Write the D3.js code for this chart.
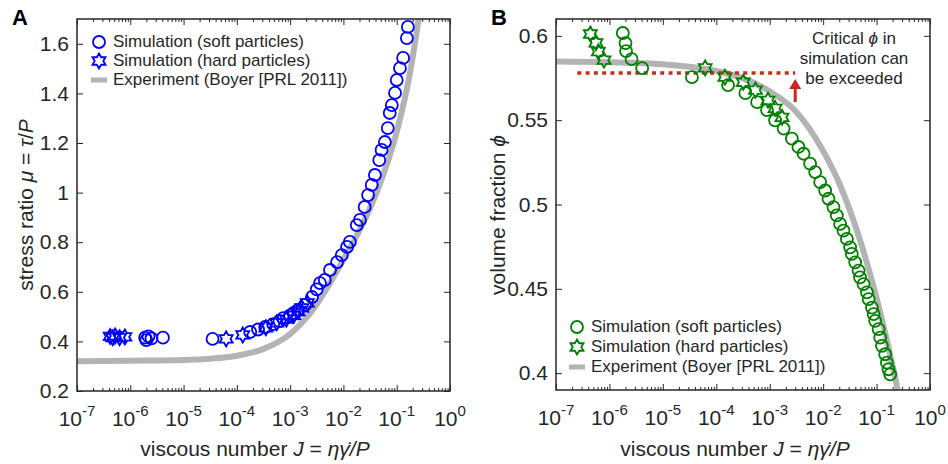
<!DOCTYPE html>
<html>
<head>
<meta charset="utf-8">
<script src="https://cdn.jsdelivr.net/npm/d3@7"></script>
<style>
  body { margin: 0; background: #fff; }
  text { font-family: "Liberation Sans", Arial, sans-serif; fill: #262626; }
</style>
</head>
<body>
<svg id="chart" width="948" height="464"></svg>
<script>

// ---- data ----

// experiment (Boyer PRL 2011), panel A: mu vs J
var expMuJ = [1e-7, 1e-6, 1e-5, 3e-5, 1e-4, 3e-4, 1e-3, 1.8e-3, 3.2e-3, 5.6e-3, 1e-2, 1.8e-2, 3.2e-2, 5.6e-2, 0.1, 0.178, 0.316];
var expMu  = [0.320, 0.322, 0.325, 0.330, 0.342, 0.368, 0.430, 0.483, 0.552, 0.636, 0.730, 0.829, 0.940, 1.072, 1.244, 1.484, 1.833];

// experiment, panel B: phi vs J
var expPhiJ = [1e-7, 1e-6, 1e-5, 1e-4, 3e-4, 1e-3, 3e-3, 1e-2, 2e-2, 5e-2, 0.1, 0.2, 0.3];
var expPhi  = [0.5848, 0.5844, 0.5832, 0.5792, 0.5751, 0.5671, 0.5556, 0.5318, 0.5126, 0.4780, 0.4445, 0.4043, 0.3780];

// panel A, soft particles (circles)
var softMuJ = [1.9e-6, 2.0e-6, 2.2e-6, 2.5e-6, 4.1e-6, 3.5e-5,
  1.78e-4, 2.5e-4, 3.4e-4, 4.8e-4, 6.3e-4, 7.4e-4, 1.0e-3, 1.17e-3, 1.41e-3, 1.9e-3, 2.57e-3, 3.16e-3,
  3.63e-3, 4.47e-3, 5.6e-3, 7.6e-3, 9.3e-3, 1.17e-2, 1.32e-2, 1.78e-2, 2.04e-2, 2.5e-2, 2.9e-2, 3.4e-2,
  3.9e-2, 4.7e-2, 5.2e-2, 6.0e-2, 6.8e-2, 7.4e-2, 8.1e-2, 9.3e-2, 0.100, 0.115, 0.132, 0.155, 0.162];
var softMu = [0.415, 0.405, 0.420, 0.412, 0.415, 0.410,
  0.438, 0.448, 0.458, 0.470, 0.482, 0.494, 0.505, 0.515, 0.527, 0.547, 0.579, 0.610,
  0.635, 0.648, 0.688, 0.720, 0.748, 0.781, 0.801, 0.869, 0.890, 0.942, 0.990, 1.031,
  1.071, 1.131, 1.172, 1.204, 1.260, 1.321, 1.353, 1.402, 1.454, 1.502, 1.543, 1.623, 1.668];

// panel A, hard particles (hexagrams)
var hardMuJ = [4.2e-7, 4.7e-7, 5.2e-7, 6.3e-7, 7.9e-7, 6.3e-5, 1.29e-4, 3.5e-4, 5.6e-4, 8.5e-4, 1.17e-3, 1.41e-3, 1.66e-3, 2.1e-3];
var hardMu  = [0.420, 0.415, 0.422, 0.415, 0.418, 0.410, 0.426, 0.455, 0.475, 0.490, 0.505, 0.520, 0.535, 0.555];

// panel B, soft particles (circles)
var softPhiJ = [1.78e-6, 2.0e-6, 2.05e-6, 2.6e-6, 4.1e-6, 3.5e-5,
  1.66e-4, 3.5e-4, 5.8e-4, 8.9e-4, 1.26e-3, 1.82e-3, 2.6e-3, 3.45e-3, 4.3e-3, 5.7e-3, 7.1e-3, 8.8e-3,
  1.09e-2, 1.26e-2, 1.56e-2, 1.8e-2, 2.08e-2, 2.4e-2, 2.78e-2, 3.2e-2, 3.44e-2, 3.98e-2, 4.6e-2, 4.9e-2,
  5.7e-2, 6.6e-2, 7.1e-2, 8.2e-2, 8.8e-2, 9.4e-2, 0.109, 0.117, 0.126, 0.145, 0.156, 0.167, 0.180];
var softPhi = [0.6017, 0.5957, 0.5910, 0.5862, 0.5809, 0.5755,
  0.5708, 0.5660, 0.5607, 0.5560, 0.5499, 0.5450, 0.5391, 0.5341, 0.5301, 0.5242, 0.5192, 0.5133,
  0.5083, 0.5034, 0.4984, 0.4935, 0.4885, 0.4845, 0.4796, 0.4746, 0.4707, 0.4657, 0.4608, 0.4568,
  0.4528, 0.4479, 0.4439, 0.4389, 0.4350, 0.4310, 0.4261, 0.4211, 0.4162, 0.4112, 0.4062, 0.4023, 0.3993];

// panel B, hard particles (hexagrams)
var hardPhiJ = [4.4e-7, 5.6e-7, 6.2e-7, 7.9e-7, 6.2e-5, 1.45e-4, 3.2e-4, 5.4e-4, 9.3e-4, 1.26e-3, 1.7e-3];
var hardPhi  = [0.6011, 0.5959, 0.5906, 0.5856, 0.5810, 0.5755, 0.5725, 0.5678, 0.5618, 0.5570, 0.5517];

// critical phi line and its J span
var critPhi = 0.578;
var critJ = [2.5e-7, 3.0e-3];

// ticks
var xTickExps = [-7, -6, -5, -4, -3, -2, -1, 0];
var yTicksA = [0.2, 0.4, 0.6, 0.8, 1, 1.2, 1.4, 1.6];
var yTicksB = [0.4, 0.45, 0.5, 0.55, 0.6];

var legendLabels = ["Simulation (soft particles)", "Simulation (hard particles)", "Experiment (Boyer [PRL 2011])"];


// ---- drawing ----

var svg = d3.select("#chart");
svg.append("rect").attr("width", 948).attr("height", 464).attr("fill", "#fff");

var axisColor = "#262626";
var grayColor = "#b3b3b3";

function hexagram(r) {
    var pts = [];
    for (var i = 0; i < 12; i++) {
        var a = -Math.PI / 2 + i * Math.PI / 6;
        var rr = (i % 2 === 0) ? r : r / Math.sqrt(3);
        pts.push([rr * Math.cos(a), rr * Math.sin(a)]);
    }
    return "M" + pts.map(function(p) { return p[0].toFixed(2) + "," + p[1].toFixed(2); }).join("L") + "Z";
}

function drawPanel(opt) {

    var g = svg.append("g");

    var x = d3.scaleLog().domain([1e-7, 1]).range([opt.left, opt.right]);
    var y = d3.scaleLinear().domain(opt.yDomain).range([opt.bottom, opt.top]);

    var clipId = "clip" + opt.id;
    svg.append("clipPath").attr("id", clipId)
        .append("rect")
        .attr("x", opt.left).attr("y", opt.top)
        .attr("width", opt.right - opt.left).attr("height", opt.bottom - opt.top);

    var plot = g.append("g").attr("clip-path", "url(#" + clipId + ")");

    // experiment curve
    plot.append("path")
        .datum(d3.zip(opt.expJ, opt.expY))
        .attr("fill", "none")
        .attr("stroke", grayColor)
        .attr("stroke-width", 6)
        .attr("d", d3.line().x(function(d) { return x(d[0]); }).y(function(d) { return y(d[1]); }).curve(d3.curveMonotoneX));

    if (opt.extra) opt.extra(plot, x, y);

    // soft particles
    plot.selectAll("circle.soft")
        .data(d3.zip(opt.softJ, opt.softY))
        .enter().append("circle")
        .attr("class", "soft")
        .attr("cx", function(d) { return x(d[0]); })
        .attr("cy", function(d) { return y(d[1]); })
        .attr("r", 6)
        .attr("fill", "none")
        .attr("stroke", opt.color)
        .attr("stroke-width", 1.8);

    // hard particles
    plot.selectAll("path.hard")
        .data(d3.zip(opt.hardJ, opt.hardY))
        .enter().append("path")
        .attr("class", "hard")
        .attr("d", hexagram(7.5))
        .attr("transform", function(d) { return "translate(" + x(d[0]) + "," + y(d[1]) + ")"; })
        .attr("fill", "none")
        .attr("stroke", opt.color)
        .attr("stroke-width", 1.8)
        .attr("stroke-linejoin", "miter");

    // axes (ticks inward, labels added by hand)
    var majors = xTickExps.map(function(e) { return Math.pow(10, e); });
    var minors = [];
    for (var e = -7; e < 0; e++) {
        for (var k = 2; k <= 9; k++) minors.push(k * Math.pow(10, e));
    }

    function styleAxis(sel) {
        sel.select(".domain").remove();
        sel.selectAll(".tick line").attr("stroke", axisColor).attr("stroke-width", 1);
    }

    g.append("g").attr("transform", "translate(0," + opt.bottom + ")")
        .call(d3.axisBottom(x).tickValues(majors).tickSize(-6).tickFormat("")).call(styleAxis);
    g.append("g").attr("transform", "translate(0," + opt.bottom + ")")
        .call(d3.axisBottom(x).tickValues(minors).tickSize(-3).tickFormat("")).call(styleAxis);
    g.append("g").attr("transform", "translate(0," + opt.top + ")")
        .call(d3.axisTop(x).tickValues(majors).tickSize(-6).tickFormat("")).call(styleAxis);
    g.append("g").attr("transform", "translate(0," + opt.top + ")")
        .call(d3.axisTop(x).tickValues(minors).tickSize(-3).tickFormat("")).call(styleAxis);

    var left = g.append("g").attr("transform", "translate(" + opt.left + ",0)")
        .call(d3.axisLeft(y).tickValues(opt.yTicks).tickSize(-6).tickPadding(8).tickFormat(d3.format("~g")))
        .call(styleAxis);
    left.attr("font-family", null);
    left.selectAll(".tick text")
        .attr("font-size", 21)
        .attr("fill", axisColor);

    g.append("g").attr("transform", "translate(" + opt.right + ",0)")
        .call(d3.axisRight(y).tickValues(opt.yTicks).tickSize(-6).tickFormat(""))
        .call(styleAxis);

    // x tick labels 10^n
    var xl = g.append("g");
    xTickExps.forEach(function(ex) {
        var t = xl.append("text")
            .attr("x", x(Math.pow(10, ex)))
            .attr("y", opt.bottom + 35)
            .attr("text-anchor", "middle")
            .attr("font-size", 21);
        t.append("tspan").text("10");
        t.append("tspan").attr("dy", -10).attr("font-size", 15).text(String(ex));
    });

    // box
    g.append("rect")
        .attr("x", opt.left).attr("y", opt.top)
        .attr("width", opt.right - opt.left).attr("height", opt.bottom - opt.top)
        .attr("fill", "none")
        .attr("stroke", axisColor)
        .attr("stroke-width", 1.5);

    // x label
    var xlab = g.append("text")
        .attr("x", opt.xLabelX)
        .attr("y", 456)
        .attr("text-anchor", "middle")
        .attr("font-size", 21);
    xlab.append("tspan").text("viscous number ");
    xlab.append("tspan").attr("font-style", "italic").text("J");
    xlab.append("tspan").text(" = ");
    xlab.append("tspan").attr("font-style", "italic").text("\u03b7\u03b3\u0307/P");

    // y label
    var ylab = g.append("text")
        .attr("transform", "translate(" + opt.yLabelX + "," + opt.yLabelY + ") rotate(-90)")
        .attr("text-anchor", "middle")
        .attr("font-size", 21);
    opt.yLabel.forEach(function(part) {
        ylab.append("tspan").attr("font-style", part[1] ? "italic" : null).text(part[0]);
    });

    // panel letter
    g.append("text")
        .attr("x", opt.left - 65)
        .attr("y", 25)
        .attr("font-size", 22)
        .attr("font-weight", "bold")
        .style("fill", "#000")
        .text(opt.letter);

    // legend
    var lg = g.append("g");
    var lx = opt.left + opt.legendDx;
    opt.legendBase.forEach(function(by, i) {
        var cy = by - 5;
        if (i === 0) {
            lg.append("circle").attr("cx", lx).attr("cy", cy).attr("r", 6)
                .attr("fill", "none").attr("stroke", opt.color).attr("stroke-width", 1.8);
        } else if (i === 1) {
            lg.append("path").attr("d", hexagram(7.5)).attr("transform", "translate(" + lx + "," + cy + ")")
                .attr("fill", "none").attr("stroke", opt.color).attr("stroke-width", 1.8);
        } else {
            lg.append("line").attr("x1", lx - 8).attr("x2", lx + 8).attr("y1", cy).attr("y2", cy)
                .attr("stroke", grayColor).attr("stroke-width", 5);
        }
        lg.append("text")
            .attr("x", lx + 14)
            .attr("y", by)
            .attr("font-size", 17)
            .text(legendLabels[i]);
    });
}

drawPanel({
    id: "A", letter: "A",
    left: 77, right: 450, top: 19, bottom: 391,
    yDomain: [0.2, 1.7], yTicks: yTicksA,
    color: "#0000ff",
    expJ: expMuJ, expY: expMu,
    softJ: softMuJ, softY: softMu,
    hardJ: hardMuJ, hardY: hardMu,
    xLabelX: 255, yLabelX: 33, yLabelY: 205,
    yLabel: [["stress ratio ", false], ["\u03bc", true], [" = ", false], ["\u03c4", true], ["/", false], ["P", true]],
    legendDx: 22, legendBase: [47, 66, 85]
});

drawPanel({
    id: "B", letter: "B",
    left: 556, right: 930, top: 19, bottom: 390,
    yDomain: [0.39, 0.61], yTicks: yTicksB,
    color: "#008000",
    expJ: expPhiJ, expY: expPhi,
    softJ: softPhiJ, softY: softPhi,
    hardJ: hardPhiJ, hardY: hardPhi,
    xLabelX: 735, yLabelX: 505, yLabelY: 215,
    yLabel: [["volume fraction ", false], ["\u03d5", true]],
    legendDx: 21, legendBase: [332, 352, 372],
    extra: function(plot, x, y) {
        // critical phi line
        plot.append("line")
            .attr("x1", x(critJ[0])).attr("x2", x(critJ[1]))
            .attr("y1", y(critPhi)).attr("y2", y(critPhi))
            .attr("stroke", "#c92c1c")
            .attr("stroke-width", 3.5)
            .attr("stroke-dasharray", "4,4.3");
    }
});

// annotation in panel B
(function() {
    var xB = d3.scaleLog().domain([1e-7, 1]).range([556, 930]);
    var yB = d3.scaleLinear().domain([0.39, 0.61]).range([390, 19]);
    var ax = xB(critJ[1]);
    var tipY = yB(critPhi) + 6;
    svg.append("line")
        .attr("x1", ax).attr("x2", ax)
        .attr("y1", tipY + 8).attr("y2", 102)
        .attr("stroke", "#c8281e").attr("stroke-width", 3);
    svg.append("path")
        .attr("d", "M" + (ax - 6) + "," + (tipY + 10) + "L" + ax + "," + tipY + "L" + (ax + 6) + "," + (tipY + 10) + "Z")
        .attr("fill", "#c8281e");

    var lines = [[["Critical ", false], ["\u03d5", true], [" in", false]], [["simulation can", false]], [["be exceeded", false]]];
    lines.forEach(function(parts, i) {
        var t = svg.append("text")
            .attr("x", 854)
            .attr("y", 44 + i * 20)
            .attr("text-anchor", "middle")
            .attr("font-size", 17);
        parts.forEach(function(p) {
            t.append("tspan").attr("font-style", p[1] ? "italic" : null).text(p[0]);
        });
    });
})();

</script>
</body>
</html>
